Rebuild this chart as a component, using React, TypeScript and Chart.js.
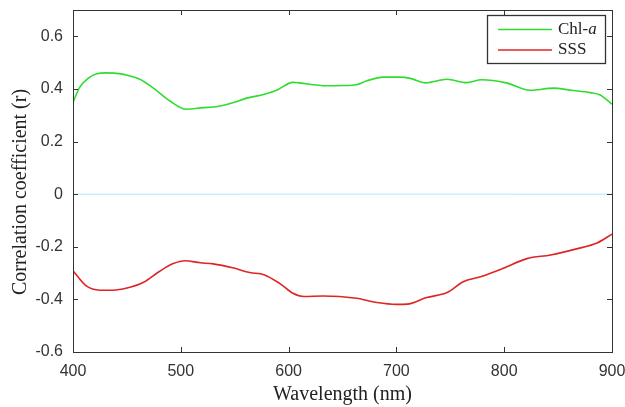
import React, { useEffect, useRef } from "react";
import { Chart, registerables } from "chart.js";
Chart.register(...registerables);

const xTicks = [400, 500, 600, 700, 800, 900];
const yTicks = [-0.6, -0.4, -0.2, 0, 0.2, 0.4, 0.6];

const chlWavelengths = [400, 406, 414, 422, 431, 443, 452, 462, 474, 490, 505, 521, 533, 549, 561, 576, 589, 604, 610, 626, 635, 650, 663, 672, 688, 703, 713, 727, 747, 765, 779, 802, 824, 846, 862, 880, 889, 900];
const chlR = [0.348, 0.405, 0.44, 0.458, 0.461, 0.458, 0.45, 0.437, 0.405, 0.354, 0.323, 0.329, 0.332, 0.348, 0.365, 0.378, 0.395, 0.425, 0.423, 0.415, 0.412, 0.413, 0.416, 0.43, 0.445, 0.445, 0.44, 0.423, 0.437, 0.424, 0.435, 0.423, 0.395, 0.403, 0.395, 0.386, 0.377, 0.342];

const sssWavelengths = [400, 412, 425, 437, 450, 465, 480, 493, 504, 518, 530, 549, 564, 577, 592, 604, 614, 632, 663, 682, 700, 710, 728, 747, 762, 778, 799, 821, 843, 868, 886, 900];
const sssR = [-0.291, -0.348, -0.365, -0.365, -0.357, -0.336, -0.294, -0.264, -0.253, -0.261, -0.265, -0.281, -0.298, -0.306, -0.34, -0.377, -0.389, -0.387, -0.396, -0.412, -0.419, -0.418, -0.393, -0.374, -0.333, -0.314, -0.282, -0.245, -0.231, -0.207, -0.186, -0.152];

const zeroLineX = [400, 900];
const zeroLineY = [0, 0];

const GREEN = "#2fdc2f";
const RED = "#df2424";
const CYAN = "#a8ecf4";
const SERIF = "'Liberation Serif', 'Times New Roman', serif";
const SANS = "'Liberation Sans', Arial, sans-serif";

const framePlugin = {
  id: "frame",
  afterDatasetsDraw(chart: any) {
    const { ctx, chartArea, scales } = chart;
    const { left, right, top, bottom } = chartArea;
    ctx.save();
    ctx.strokeStyle = "#333";
    ctx.lineWidth = 1;
    ctx.strokeRect(Math.round(left) + 0.5, Math.round(top) + 0.5, Math.round(right - left), Math.round(bottom - top));
    ctx.beginPath();
    for (const v of xTicks) {
      const x = Math.round(scales.x.getPixelForValue(v)) + 0.5;
      ctx.moveTo(x, bottom);
      ctx.lineTo(x, bottom - 5);
      ctx.moveTo(x, top);
      ctx.lineTo(x, top + 5);
    }
    for (const v of yTicks) {
      const y = Math.round(scales.y.getPixelForValue(v)) + 0.5;
      ctx.moveTo(left, y);
      ctx.lineTo(left + 5, y);
      ctx.moveTo(right, y);
      ctx.lineTo(right - 5, y);
    }
    ctx.stroke();

    // y axis title
    ctx.save();
    ctx.translate(left - 52, (top + bottom) / 2 + 11);
    ctx.rotate(-Math.PI / 2);
    ctx.fillStyle = "#222";
    ctx.font = `20px ${SERIF}`;
    ctx.textAlign = "center";
    ctx.textBaseline = "middle";
    ctx.fillText("Correlation coefficient (r)", 0, 0);
    ctx.restore();

    // legend
    const bx = Math.round(right) - 125, by = Math.round(top) + 5, bw = 118, bh = 48;
    ctx.fillStyle = "#fff";
    ctx.fillRect(bx, by, bw, bh);
    ctx.strokeStyle = "#333";
    ctx.lineWidth = 1.3;
    ctx.strokeRect(bx + 0.5, by + 0.5, bw, bh);
    const rows = [
      { color: GREEN, y: by + 14.5 },
      { color: RED, y: by + 35 },
    ];
    ctx.lineWidth = 1.5;
    for (const r of rows) {
      ctx.strokeStyle = r.color;
      ctx.beginPath();
      ctx.moveTo(bx + 11, r.y);
      ctx.lineTo(bx + 65, r.y);
      ctx.stroke();
    }
    ctx.fillStyle = "#222";
    ctx.textBaseline = "middle";
    ctx.textAlign = "left";
    ctx.font = `17px ${SERIF}`;
    const t1 = "Chl-";
    ctx.fillText(t1, bx + 71, rows[0].y);
    const w1 = ctx.measureText(t1).width;
    ctx.font = `italic 17px ${SERIF}`;
    ctx.fillText("a", bx + 71 + w1, rows[0].y);
    ctx.font = `17px ${SERIF}`;
    ctx.fillText("SSS", bx + 71, rows[1].y);
    ctx.restore();
  },
};

export default function App() {
  const ref = useRef<HTMLCanvasElement | null>(null);
  useEffect(() => {
    document.body.style.margin = "0";
    const toPts = (xs: number[], ys: number[]) => xs.map((x, i) => ({ x, y: ys[i] }));
    const chart = new Chart(ref.current as HTMLCanvasElement, {
      type: "line",
      data: {
        datasets: [
          {
            label: "zero",
            data: toPts(zeroLineX, zeroLineY),
            borderColor: CYAN,
            borderWidth: 1,
            pointRadius: 0,
            tension: 0,
          },
          {
            label: "Chl-a",
            data: toPts(chlWavelengths, chlR),
            borderColor: GREEN,
            borderWidth: 1.6,
            pointRadius: 0,
            cubicInterpolationMode: "monotone",
          },
          {
            label: "SSS",
            data: toPts(sssWavelengths, sssR),
            borderColor: RED,
            borderWidth: 1.6,
            pointRadius: 0,
            cubicInterpolationMode: "monotone",
          },
        ],
      },
      options: {
        animation: false,
        responsive: true,
        maintainAspectRatio: false,
        layout: { padding: { top: 10, right: 13, left: 0, bottom: 0 } },
        plugins: { legend: { display: false }, tooltip: { enabled: false } },
        scales: {
          x: {
            type: "linear",
            min: 400,
            max: 900,
            grid: { display: false, drawTicks: false },
            border: { display: false },
            afterBuildTicks: (s: any) => {
              s.ticks = xTicks.map((v) => ({ value: v }));
            },
            afterFit: (s: any) => {
              s.height = 55;
              s.paddingLeft = 0;
              s.paddingRight = 0;
            },
            ticks: {
              padding: 10,
              color: "#333",
              font: { family: SANS, size: 16 },
              maxRotation: 0,
              callback: (v: any) => String(v),
            },
            title: {
              display: true,
              text: "Wavelength (nm)",
              color: "#222",
              font: { family: SERIF, size: 20 },
              padding: { top: 0, bottom: 0 },
            },
          },
          y: {
            type: "linear",
            min: -0.6,
            max: 0.7,
            grid: { display: false, drawTicks: false },
            border: { display: false },
            afterBuildTicks: (s: any) => {
              s.ticks = yTicks.map((v) => ({ value: v }));
            },
            afterFit: (s: any) => {
              s.width = 73;
              s.paddingTop = 0;
              s.paddingBottom = 0;
            },
            ticks: {
              padding: 10,
              color: "#333",
              font: { family: SANS, size: 16 },
              callback: (v: any) => {
                const n = Math.round(Number(v) * 10) / 10;
                return n === 0 ? "0" : n.toFixed(1);
              },
            },
          },
        },
      },
      plugins: [framePlugin],
    } as any);
    return () => chart.destroy();
  }, []);
  return (
    <div style={{ width: 625, height: 407, position: "relative" }}>
      <canvas ref={ref} />
    </div>
  );
}
